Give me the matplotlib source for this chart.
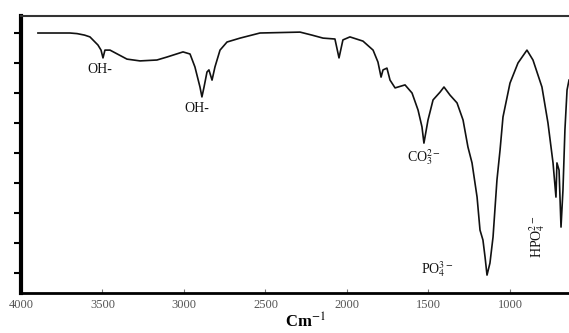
import matplotlib
matplotlib.use("Agg")
import matplotlib.pyplot as plt

# Data (wavenumber in cm^-1, transmittance in arbitrary %)
wavenumber = [3896, 3700, 3656, 3610, 3577, 3528, 3509, 3497, 3485, 3454, 3350, 3270, 3166, 3104,
              3006, 2963, 2933, 2902, 2890, 2877, 2859, 2847, 2828, 2810, 2779, 2736,
              2656, 2534, 2288, 2215, 2147, 2074, 2049, 2025, 1982, 1902, 1840, 1810,
              1791, 1779, 1755, 1736, 1705, 1644, 1601, 1564, 1540, 1528, 1503, 1472,
              1429, 1405, 1368, 1325, 1288, 1258, 1233, 1202, 1184, 1166, 1153, 1141,
              1123, 1104, 1080, 1061, 1043, 1000, 951, 896, 859, 804, 767, 736, 718,
              712, 699, 687, 675, 663, 650, 638]
transmittance = [90, 90, 89.8, 89.3, 88.7, 86, 84.3, 81.7, 84.3, 84.3, 81.3, 80.7, 81, 82,
                 83.7, 83, 78.7, 72, 68.7, 72, 77, 77.7, 74.3, 78.7, 84.3, 87,
                 88.3, 90, 90.3, 89.3, 88.3, 88, 81.7, 87.7, 88.7, 87.3, 84.3, 80.3,
                 75.3, 77.7, 78.3, 74.3, 71.7, 72.7, 70, 64.3, 58.7, 53.3, 61, 67.7,
                 70.3, 72, 69.3, 66.7, 61, 52, 46.7, 35.3, 24.3, 21, 15.3, 9.3,
                 13.3, 22, 41, 51, 62, 73.3, 80, 84.3, 81, 72, 60, 46.7, 35.3,
                 46.7, 44.3, 25.3, 37.7, 57.7, 71, 74.3]

xticks = [4000, 3500, 3000, 2500, 2000, 1500, 1000]
xtick_labels = ["4000", "3500", "3000", "2500", "2000", "1500", "1000"]
yticks = [10, 20, 30, 40, 50, 60, 70, 80, 90]

labels = ["OH-", "OH-", "CO$_3^{2-}$", "PO$_4^{3-}$", "HPO$_4^{2-}$"]
label_x = [3515, 2920, 1528, 1448, 834]
label_y = [77.7, 65, 48.7, 11.3, 22]
label_rot = [0, 0, 0, 0, 90]

plt.rcParams['font.family'] = ['Liberation Serif', 'DejaVu Serif']
plt.rcParams['mathtext.fontset'] = 'stix'

fig = plt.figure(figsize=(5.69, 3.33), dpi=100)
ax = fig.add_axes([21/569, 1 - 293/333, 1 - 21/569, (293 - 16)/333])

ax.plot(wavenumber, transmittance, color='#111111', lw=1.2)

ax.set_xlim(4000, 638)
ax.set_ylim(3.33, 95.67)

ax.set_xticks(xticks)
ax.set_xticklabels(xtick_labels, fontsize=9, color='#555555')
ax.set_yticks(yticks)
ax.set_yticklabels([])
ax.tick_params(axis='x', direction='in', length=3, width=0.8, color='#777777', pad=4)
ax.tick_params(axis='y', direction='out', length=5, width=1.5, color='black')

ax.spines['right'].set_visible(False)
ax.spines['left'].set_linewidth(3)
ax.spines['bottom'].set_linewidth(2)
ax.spines['top'].set_linewidth(1.5)
ax.spines['top'].set_color('#333333')

for t, x, y, r in zip(labels, label_x, label_y, label_rot):
    ax.text(x, y, t, fontsize=10, ha='center', va='center', rotation=r, color='#111111')

fig.text(305/569, 0.004, "Cm$^{-1}$", fontsize=12, ha='center', va='bottom', fontweight='bold')

fig.savefig("out.png", dpi=100)
